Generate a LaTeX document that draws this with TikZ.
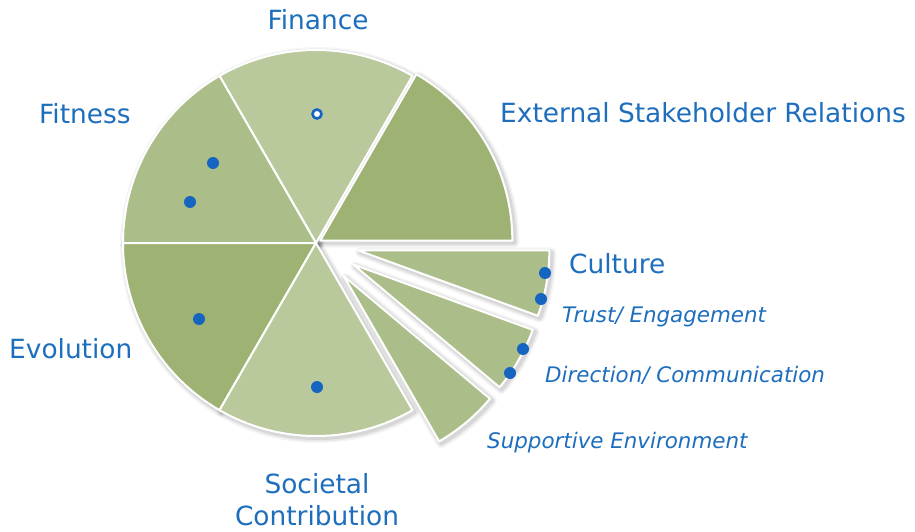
\documentclass[tikz,border=0pt]{standalone}
\usepackage{fontspec}
\setmainfont{DejaVu Sans}
\definecolor{txtblue}{HTML}{1E6EBE}
\definecolor{dotblue}{HTML}{1565C0}
\definecolor{gLight}{HTML}{B9C99B}
\definecolor{gMid}{HTML}{ABBE89}
\definecolor{gDark}{HTML}{9EB274}
\newcommand{\sliceshadow}[4]{%
  \foreach \w/\o in {10/0.04,7/0.05,4/0.07}{%
    \draw[line width=\w pt, black, opacity=\o, line join=round]
      ([shift={(2pt,-2pt)}]#1) -- ++(#2:#4) arc[start angle=#2, end angle=#3, radius=#4] -- cycle;
  }%
}
\newcommand{\slicefill}[5]{%
  \filldraw[fill=#5, draw=white, line width=2pt, line join=round]
    (#1) -- ++(#2:#4) arc[start angle=#2, end angle=#3, radius=#4] -- cycle;
}
\tikzset{
  lbl/.style={inner sep=0pt, text=txtblue, font=\fontsize{26.4}{31}\selectfont},
  sublbl/.style={inner sep=0pt, text=txtblue, font=\fontsize{21.4}{25}\selectfont\itshape},
  dot/.style={circle, fill=dotblue, inner sep=0pt, minimum size=12pt},
  hdot/.style={circle, fill=white, draw=dotblue, line width=2.6pt, inner sep=0pt, minimum size=9pt}
}
\begin{document}
\begin{tikzpicture}[x=1pt,y=1pt]
\useasboundingbox[fill=white] (0,0) rectangle (915,-532);
\coordinate (C) at (316,-243);
\coordinate (CE) at ([shift={(30:5pt)}]C);
\coordinate (CS) at ([shift={(310:43pt)}]C);
\coordinate (CD) at ([shift={(330:43pt)}]C);
\coordinate (CC) at ([shift={(350:43pt)}]C);
% shadows
\sliceshadow{CE}{0}{60}{192pt}
\sliceshadow{C}{60}{120}{193pt}
\sliceshadow{C}{120}{180}{193pt}
\sliceshadow{C}{180}{240}{193pt}
\sliceshadow{C}{240}{300}{193pt}
\sliceshadow{CS}{300}{320}{191pt}
\sliceshadow{CD}{320}{340}{191pt}
\sliceshadow{CC}{340}{360}{191pt}
% slices
\slicefill{CE}{0}{60}{192pt}{gDark}
\slicefill{C}{60}{120}{193pt}{gLight}
\slicefill{C}{120}{180}{193pt}{gMid}
\slicefill{C}{180}{240}{193pt}{gDark}
\slicefill{C}{240}{300}{193pt}{gLight}
\slicefill{CS}{300}{320}{191pt}{gMid}
\slicefill{CD}{320}{340}{191pt}{gMid}
\slicefill{CC}{340}{360}{191pt}{gMid}
% dots
\node[hdot] (d0) at (317,-114) {};
\node[dot] (d1) at (213,-163) {};
\node[dot] (d2) at (190,-202) {};
\node[dot] (d3) at (199,-319) {};
\node[dot] (d4) at (317,-387) {};
\node[dot] (d5) at (545,-273) {};
\node[dot] (d6) at (541,-299) {};
\node[dot] (d7) at (523,-349) {};
\node[dot] (d8) at (510,-373) {};
% labels
\node[lbl, anchor=base] (finance) at (318,-30) {Finance};
\node[lbl, anchor=base west] (fitness) at (39,-124) {Fitness};
\node[lbl, anchor=base west] (ext) at (500,-123) {External Stakeholder Relations};
\node[lbl, anchor=base west] (culture) at (569,-273) {Culture};
\node[sublbl, anchor=base west] (trust) at (562,-322) {Trust/ Engagement};
\node[sublbl, anchor=base west] (dir) at (545,-382) {Direction/ Communication};
\node[sublbl, anchor=base west] (supp) at (487,-448) {Supportive Environment};
\node[lbl, anchor=base west] (evol) at (9,-358) {Evolution};
\node[lbl, anchor=base] (soc1) at (317,-493) {Societal};
\node[lbl, anchor=base] (soc2) at (317,-525) {Contribution};
\end{tikzpicture}
\end{document}
